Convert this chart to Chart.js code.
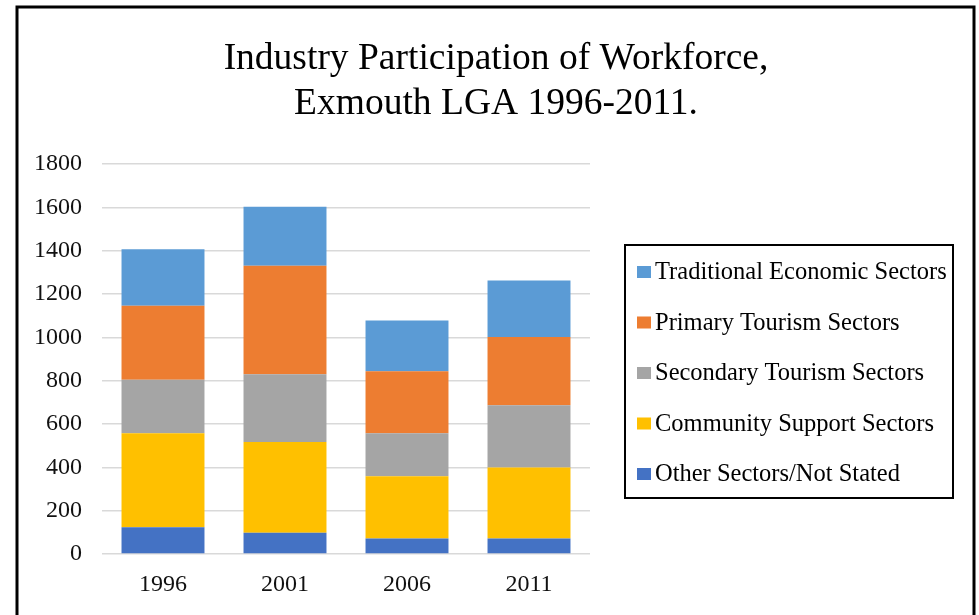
<!DOCTYPE html>
<html>
<head>
<meta charset="utf-8">
<title>Industry Participation of Workforce</title>
<script src="https://cdn.jsdelivr.net/npm/chart.js@4.4.0/dist/chart.umd.min.js"></script>
<style>
    html, body { margin: 0; padding: 0; background: #fff; }
    #wrap { width: 979px; height: 615px; }
</style>
</head>
<body>
<div id="wrap"><canvas id="chart" width="979" height="615"></canvas></div>
<script>
// data
var years = ['1996', '2001', '2006', '2011'];
var otherSectors = [123, 98, 71, 71];
var communitySupport = [434, 419, 288, 328];
var secondaryTourism = [247, 313, 198, 288];
var primaryTourism = [342, 500, 287, 314];
var traditionalEconomic = [261, 273, 234, 261];
var titleLines = ['Industry Participation of Workforce,', 'Exmouth LGA 1996-2011.'];

var serif = '"Liberation Serif", "Times New Roman", serif';

// frame, title and boxed legend
var decorPlugin = {
    id: 'decor',
    afterDraw: function (chart) {
        var ctx = chart.ctx;
        ctx.save();
        ctx.strokeStyle = '#000';
        ctx.lineWidth = 3;
        ctx.beginPath();
        ctx.moveTo(17, 615);
        ctx.lineTo(17, 7);
        ctx.lineTo(974, 7);
        ctx.lineTo(974, 615);
        ctx.stroke();

        ctx.fillStyle = '#000';
        ctx.textAlign = 'center';
        ctx.textBaseline = 'middle';
        ctx.font = '37.5px ' + serif;
        ctx.fillText(titleLines[0], 496, 59);
        ctx.fillText(titleLines[1], 496, 104);

        // legend, top of the stack first
        ctx.lineWidth = 2;
        ctx.strokeRect(625, 245, 328, 253);
        ctx.font = '24.5px ' + serif;
        ctx.textAlign = 'left';
        var sets = chart.data.datasets.slice().reverse();
        sets.forEach(function (ds, i) {
            var cy = 272 + i * 50.5;
            ctx.fillStyle = ds.backgroundColor;
            ctx.fillRect(637, cy - 6, 14, 12);
            ctx.fillStyle = '#000';
            ctx.fillText(ds.label, 655, cy + 1);
        });
        ctx.restore();
    }
};

var chart = new Chart(document.getElementById('chart'), {
    type: 'bar',
    data: {
        labels: years,
        datasets: [
            { label: 'Other Sectors/Not Stated', data: otherSectors, backgroundColor: '#4472C4' },
            { label: 'Community Support Sectors', data: communitySupport, backgroundColor: '#FFC000' },
            { label: 'Secondary Tourism Sectors', data: secondaryTourism, backgroundColor: '#A5A5A5' },
            { label: 'Primary Tourism Sectors', data: primaryTourism, backgroundColor: '#ED7D31' },
            { label: 'Traditional Economic Sectors', data: traditionalEconomic, backgroundColor: '#5B9BD5' }
        ]
    },
    options: {
        responsive: false,
        animation: false,
        devicePixelRatio: 1,
        categoryPercentage: 1,
        barPercentage: 0.68,
        layout: {
            padding: { top: 164, left: 17, right: 389, bottom: 0 }
        },
        plugins: {
            legend: { display: false },
            title: { display: false },
            tooltip: { enabled: false }
        },
        scales: {
            x: {
                stacked: true,
                grid: { display: false },
                border: { display: false },
                ticks: {
                    color: '#111',
                    padding: 8,
                    font: { family: serif, size: 24 }
                },
                afterFit: function (scale) { scale.height = 61; }
            },
            y: {
                stacked: true,
                min: 0,
                max: 1800,
                border: { display: false },
                grid: { color: '#d9d9d9', lineWidth: 1.5, drawTicks: false },
                ticks: {
                    stepSize: 200,
                    color: '#111',
                    padding: 20,
                    font: { family: serif, size: 24 },
                    callback: function (v) { return String(v); }
                },
                afterFit: function (scale) { scale.width = 85; }
            }
        }
    },
    plugins: [decorPlugin]
});
</script>
</body>
</html>
